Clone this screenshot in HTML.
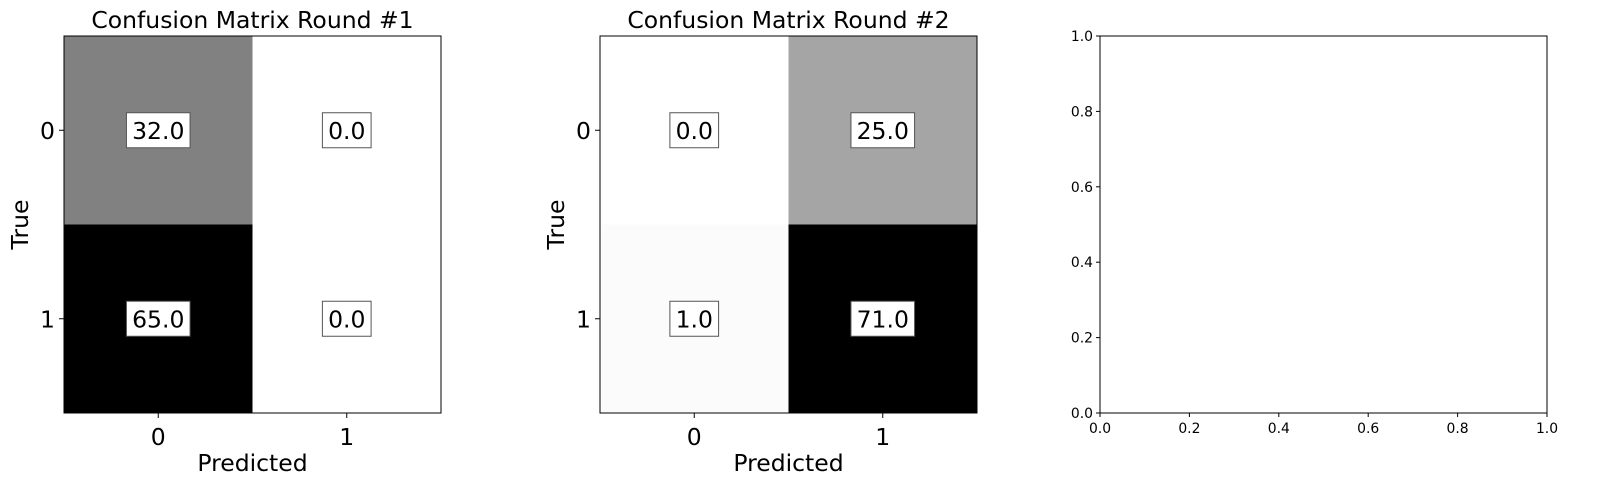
<!DOCTYPE html>
<html><head><meta charset="utf-8"><style>
body{margin:0;background:#fff;}
svg{display:block;font-family:"DejaVu Sans","Liberation Sans",sans-serif;}
</style></head><body>
<svg id="fig" width="1600" height="495"></svg>
<script>
const classes = ["0","1"];
const round1 = [[32,0],[65,0]];
const round2 = [[0,25],[1,71]];
const titles = ["Confusion Matrix Round #1","Confusion Matrix Round #2"];
const emptyTicks = ["0.0","0.2","0.4","0.6","0.8","1.0"];
const emptyTickVals = [0,0.2,0.4,0.6,0.8,1.0];

const NS="http://www.w3.org/2000/svg";
const svg=document.getElementById('fig');
function mk(tag,attrs,parent){const e=document.createElementNS(NS,tag);for(const k in attrs)e.setAttribute(k,attrs[k]);(parent||svg).appendChild(e);return e;}
const FS=23.5;

function drawMatrix(data,title,x0,y0,size,idx){
  const g=mk('g',{});
  
  
  const n=classes.length;
  let mx=0;data.forEach(r=>r.forEach(v=>{if(v>mx)mx=v;}));
  const cs=size/n;
  const sx=j=>x0+cs*j, sy=i=>y0+cs*i;
  for(let i=0;i<n;i++)for(let j=0;j<n;j++){
    const v=data[i][j];
    const c=Math.round(255*(1-(mx?v/mx:0)));
    const r=mk('rect',{x:sx(j),y:sy(i),width:cs+0.5,height:cs+0.5,fill:`rgb(${c},${c},${c})`},g);
    
    
  }
  for(let i=0;i<n;i++)for(let j=0;j<n;j++){
    const label=data[i][j].toFixed(1);
    const cx=sx(j)+cs/2, cy=sy(i)+cs/2;
    const w=label.length*14.9+4;
    const b=mk('rect',{x:cx-w/2,y:cy-17.5,width:w,height:35,fill:'#fff',stroke:'#555','stroke-width':1},g);
    
    
    const t=mk('text',{x:cx,y:cy+8.5,'text-anchor':'middle','font-size':FS,fill:'#000'},g);
    
    
    t.textContent=label;
  }
  mk('rect',{x:x0,y:y0,width:size,height:size,fill:'none',stroke:'#000','stroke-width':1},g);
  for(let k=0;k<n;k++){
    const px=sx(k)+cs/2, py=sy(k)+cs/2;
    mk('line',{x1:px,y1:y0+size,x2:px,y2:y0+size+5,stroke:'#000'},g);
    const tx=mk('text',{x:px,y:y0+size+32,'text-anchor':'middle','font-size':FS},g);
    
    
    tx.textContent=classes[k];
    mk('line',{x1:x0-5,y1:py,x2:x0,y2:py,stroke:'#000'},g);
    const ty=mk('text',{x:x0-9,y:py+8.5,'text-anchor':'end','font-size':FS},g);
    
    
    ty.textContent=classes[k];
  }
  const tt=mk('text',{x:x0+size/2,y:y0-8,'text-anchor':'middle','font-size':FS},g);
  
  
  tt.textContent=title;
  const xl=mk('text',{x:x0+size/2,y:y0+size+58,'text-anchor':'middle','font-size':FS},g);
  
  
  xl.textContent='Predicted';
  const yl=mk('text',{x:0,y:0,'text-anchor':'middle','font-size':FS,transform:`translate(${x0-36},${y0+size/2}) rotate(-90)`},g);
  
  
  yl.textContent='True';
}
drawMatrix(round1,titles[0],64,36,377,1);
drawMatrix(round2,titles[1],600,36,377,2);

const g3=mk('g',{});


const ex0=1100,ex1=1547,ey0=36,ey1=413;
const axX=v=>ex0+(ex1-ex0)*v, axY=v=>ey1-(ey1-ey0)*v;
mk('rect',{x:ex0,y:ey0,width:ex1-ex0,height:ey1-ey0,fill:'none',stroke:'#000'},g3);
emptyTickVals.forEach((v,k)=>{
  mk('line',{x1:axX(v),y1:ey1,x2:axX(v),y2:ey1+4,stroke:'#000'},g3);
  const t=mk('text',{x:axX(v),y:ey1+20,'text-anchor':'middle','font-size':13.9},g3);
  
  
  t.textContent=emptyTicks[k];
  mk('line',{x1:ex0-4,y1:axY(v),x2:ex0,y2:axY(v),stroke:'#000'},g3);
  const u=mk('text',{x:ex0-7,y:axY(v)+5,'text-anchor':'end','font-size':13.9},g3);
  
  
  u.textContent=emptyTicks[k];
});
</script>
</body></html>
